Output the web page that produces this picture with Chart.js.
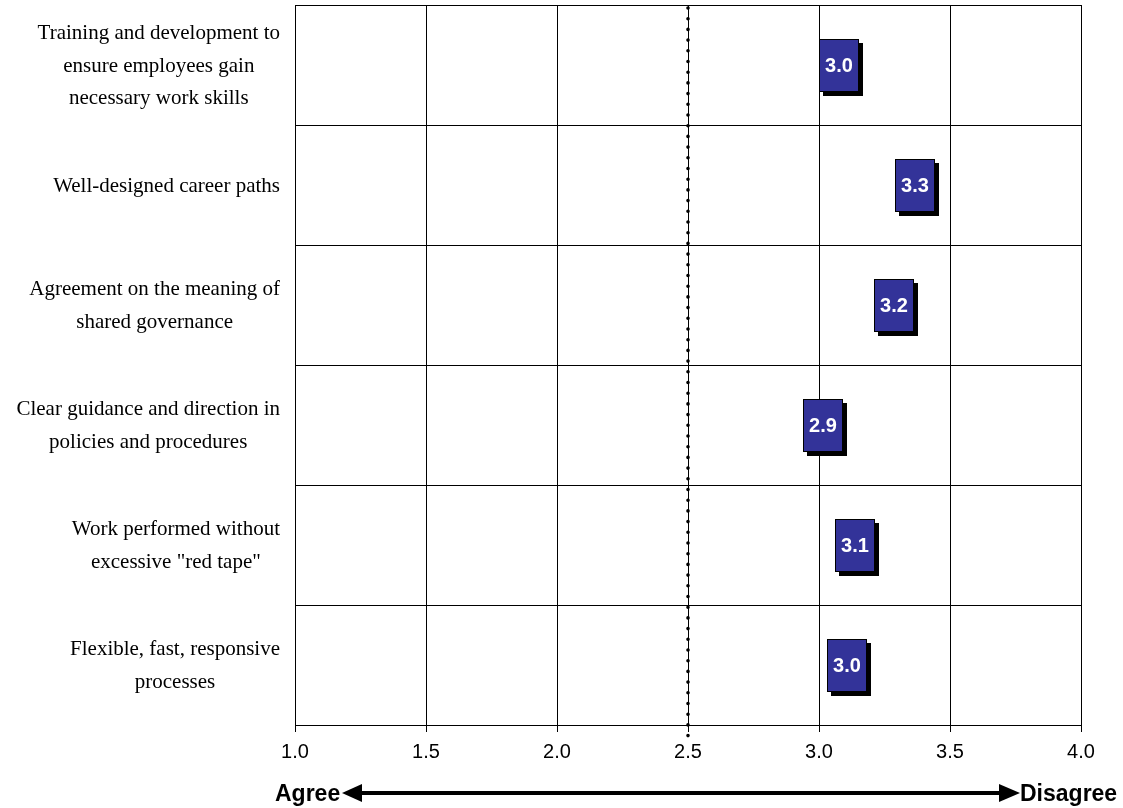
<!DOCTYPE html>
<html>
<head>
<meta charset="utf-8">
<script src="https://cdn.jsdelivr.net/npm/chart.js@4/dist/chart.umd.min.js"></script>
<style>
  html, body { margin: 0; padding: 0; background: #ffffff; }
  #wrap { width: 1123px; height: 808px; position: relative; }
</style>
</head>
<body>
<div id="wrap"><canvas id="chart" width="1123" height="808"></canvas></div>
<script>
// Survey items (one row each, top to bottom)
const categories = [
  ["Training and development to", "ensure employees gain", "necessary work skills"],
  ["Well-designed career paths"],
  ["Agreement on the meaning of", "shared governance"],
  ["Clear guidance and direction in", "policies and procedures"],
  ["Work performed without", "excessive \"red tape\""],
  ["Flexible, fast, responsive", "processes"]
];
// Mean rating per item (1 = agree, 4 = disagree)
const meanScores = [3.00, 3.29, 3.21, 2.94, 3.06, 3.03];
// Scale ticks and midpoint reference
const xTicks = [1.0, 1.5, 2.0, 2.5, 3.0, 3.5, 4.0];
const midpoint = 2.5;
const endLabels = ["Agree", "Disagree"];

const catKeys = categories.map((c, i) => "c" + i);

// Midpoint dotted rule
const midlinePlugin = {
  id: "midline",
  afterDatasetsDraw(chart) {
    const { ctx, chartArea, scales } = chart;
    const x = Math.round(scales.x.getPixelForValue(midpoint));
    ctx.save();
    ctx.strokeStyle = "#000";
    ctx.lineWidth = 3.6;
    ctx.lineCap = "round";
    ctx.setLineDash([0, 10.7]);
    ctx.beginPath();
    ctx.moveTo(x, chartArea.top + 3);
    ctx.lineTo(x, chartArea.bottom + 13);
    ctx.stroke();
    ctx.restore();
  }
};

// Value boxes with drop shadow, anchored at each mean score
const boxPlugin = {
  id: "valueBoxes",
  afterDatasetsDraw(chart) {
    const { ctx } = chart;
    const meta = chart.getDatasetMeta(0);
    const w = 40, h = 53, sh = 4;
    ctx.save();
    meta.data.forEach((pt, i) => {
      const x = Math.round(pt.x);
      const y = Math.round(pt.y - h / 2);
      ctx.fillStyle = "#000";
      ctx.fillRect(x + sh, y + sh, w, h);
      ctx.fillStyle = "#333399";
      ctx.fillRect(x, y, w, h);
      ctx.strokeStyle = "#000";
      ctx.lineWidth = 1;
      ctx.strokeRect(x + 0.5, y + 0.5, w - 1, h - 1);
      ctx.fillStyle = "#fff";
      ctx.font = "bold 20px 'Liberation Sans', Arial, sans-serif";
      ctx.textAlign = "center";
      ctx.textBaseline = "middle";
      ctx.fillText(meanScores[i].toFixed(1), x + w / 2, y + h / 2 + 1);
    });
    ctx.restore();
  }
};

// Category labels: lines centred within a right-aligned block
const labelPlugin = {
  id: "catLabels",
  afterDraw(chart) {
    const { ctx, scales } = chart;
    const right = 280, lh = 32.5;
    ctx.save();
    ctx.font = "21px 'Liberation Serif', 'Times New Roman', serif";
    ctx.fillStyle = "#000";
    ctx.textAlign = "center";
    ctx.textBaseline = "middle";
    categories.forEach((lines, i) => {
      const cy = scales.y.getPixelForValue(i) + 1;
      const bw = Math.max(...lines.map(l => ctx.measureText(l).width));
      const cx = right - bw / 2;
      const y0 = cy - (lines.length - 1) * lh / 2;
      lines.forEach((l, j) => ctx.fillText(l, cx, y0 + j * lh));
    });
    ctx.restore();
  }
};

// Agree / Disagree direction arrow under the axis
const arrowPlugin = {
  id: "dirArrow",
  afterDraw(chart) {
    const { ctx } = chart;
    const y = 793;
    ctx.save();
    ctx.fillStyle = "#000";
    ctx.font = "bold 23px 'Liberation Sans', Arial, sans-serif";
    ctx.textBaseline = "alphabetic";
    ctx.textAlign = "left";
    ctx.fillText(endLabels[0], 275, 801);
    ctx.fillText(endLabels[1], 1020, 801);
    const x1 = 342, x2 = 1020;
    ctx.fillRect(x1 + 18, y - 2, (x2 - 19) - (x1 + 18), 4);
    ctx.beginPath();
    ctx.moveTo(x1, y);
    ctx.lineTo(x1 + 20, y - 9);
    ctx.lineTo(x1 + 20, y + 9);
    ctx.closePath();
    ctx.fill();
    ctx.beginPath();
    ctx.moveTo(x2, y);
    ctx.lineTo(x2 - 21, y - 9);
    ctx.lineTo(x2 - 21, y + 9);
    ctx.closePath();
    ctx.fill();
    ctx.restore();
  }
};

new Chart(document.getElementById("chart"), {
  type: "scatter",
  data: {
    datasets: [{
      data: meanScores.map((v, i) => ({ x: v, y: catKeys[i] })),
      pointRadius: 0,
      pointHoverRadius: 0,
      showLine: false
    }]
  },
  options: {
    responsive: false,
    animation: false,
    events: [],
    layout: { padding: { top: 5, right: 42, bottom: 36, left: 0 } },
    plugins: { legend: { display: false }, tooltip: { enabled: false } },
    scales: {
      x: {
        type: "linear",
        min: xTicks[0],
        max: xTicks[xTicks.length - 1],
        afterBuildTicks(scale) { scale.ticks = xTicks.map(v => ({ value: v })); },
        ticks: {
          callback: v => Number(v).toFixed(1),
          color: "#000",
          font: { family: "'Liberation Sans', Arial, sans-serif", size: 20 },
          padding: 8,
          maxRotation: 0
        },
        grid: { color: "#000", lineWidth: 1, tickLength: 7, drawTicks: true },
        border: { display: true, color: "#000", width: 1 }
      },
      y: {
        type: "category",
        labels: catKeys,
        offset: true,
        afterFit(scale) { scale.width = 295; },
        ticks: { display: false },
        grid: { offset: true, color: "#000", lineWidth: 1, drawTicks: false },
        border: { display: true, color: "#000", width: 1 }
      }
    }
  },
  plugins: [midlinePlugin, boxPlugin, labelPlugin, arrowPlugin]
});
</script>
</body>
</html>
